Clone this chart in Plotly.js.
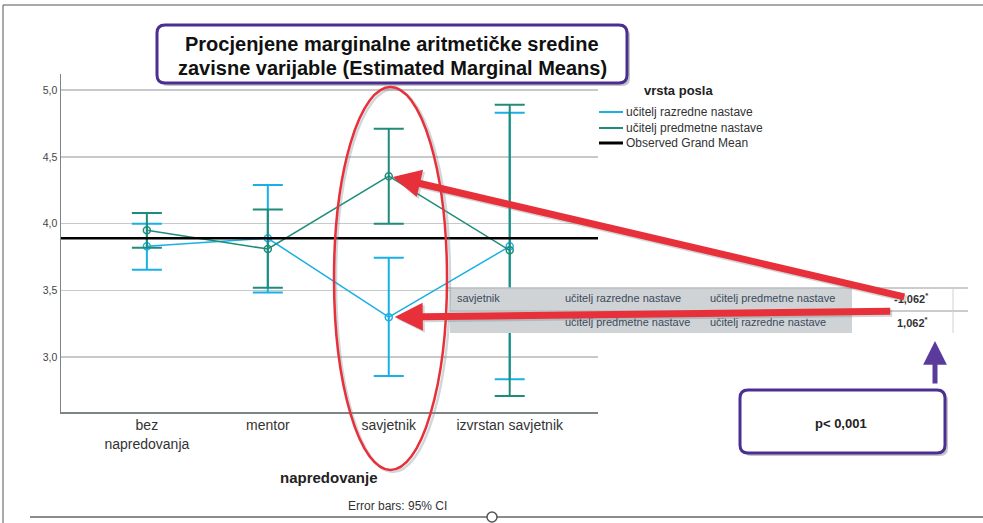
<!DOCTYPE html>
<html>
<head>
<meta charset="utf-8">
<script src="https://cdn.plot.ly/plotly-3.0.1.min.js"></script>
<style>html,body{margin:0;padding:0;background:#fff;}#chart{width:983px;height:523px;}</style>
</head>
<body>
<div id="chart"></div>
<script>
// ---- data ----
const categories = ['bez napredovanja', 'mentor', 'savjetnik', 'izvrstan savjetnik'];
const tickLabels = ['bez<br>napredovanja', 'mentor', 'savjetnik', 'izvrstan savjetnik'];
const seriesNames = ['učitelj razredne nastave', 'učitelj predmetne nastave'];
const razredneMean = [3.83, 3.89, 3.30, 3.83];
const razredneLow  = [3.655, 3.485, 2.86, 2.835];
const razredneHigh = [4.00, 4.29, 3.745, 4.83];
const predmetneMean = [3.95, 3.81, 4.355, 3.80];
const predmetneLow  = [3.82, 3.52, 4.00, 2.71];
const predmetneHigh = [4.08, 4.105, 4.71, 4.89];
const grandMean = 3.89;
const yTicks = [3.0, 3.5, 4.0, 4.5, 5.0];
const tableRows = [
  ['savjetnik', 'učitelj razredne nastave', 'učitelj predmetne nastave', '-1,062<sup>*</sup>'],
  ['', 'učitelj predmetne nastave', 'učitelj razredne nastave', '1,062<sup>*</sup>']
];

// ---- styles ----
const CYAN = '#19b0e6', TEAL = '#1f8c7a', RED = '#e8303a', PURPLE = '#4b2e91';
const L = 61, T = 74, W = 537, H = 338;
const px = x => (x - L) / W;
const py = y => 1 - (y - T) / H;
function rr(x0, y0, x1, y1, r) {
  const P = (x, y) => px(x) + ',' + py(y);
  return 'M' + P(x0 + r, y0) + ' L' + P(x1 - r, y0) + ' Q' + P(x1, y0) + ' ' + P(x1, y0 + r) +
    ' L' + P(x1, y1 - r) + ' Q' + P(x1, y1) + ' ' + P(x1 - r, y1) +
    ' L' + P(x0 + r, y1) + ' Q' + P(x0, y1) + ' ' + P(x0, y1 - r) +
    ' L' + P(x0, y0 + r) + ' Q' + P(x0, y0) + ' ' + P(x0 + r, y0) + ' Z';
}
const idx = categories.map((_, i) => i);
const diff = (a, b) => a.map((v, i) => v - b[i]);

const traces = [
  {
    x: idx, y: razredneMean, name: seriesNames[0], type: 'scatter', mode: 'lines+markers',
    line: {color: CYAN, width: 1.5},
    marker: {symbol: 'circle-open', size: 7, color: CYAN, line: {width: 1.5, color: CYAN}},
    error_y: {type: 'data', symmetric: false, array: diff(razredneHigh, razredneMean),
      arrayminus: diff(razredneMean, razredneLow), color: CYAN, thickness: 2, width: 15}
  },
  {
    x: idx, y: predmetneMean, name: seriesNames[1], type: 'scatter', mode: 'lines+markers',
    line: {color: TEAL, width: 1.5},
    marker: {symbol: 'circle-open', size: 7, color: TEAL, line: {width: 1.5, color: TEAL}},
    error_y: {type: 'data', symmetric: false, array: diff(predmetneHigh, predmetneMean),
      arrayminus: diff(predmetneMean, predmetneLow), color: TEAL, thickness: 2, width: 15}
  }
];

const shapes = [
  // frame
  {type: 'rect', xref: 'paper', yref: 'paper', x0: px(3), x1: px(1000), y0: py(5), y1: py(540), line: {color: '#555', width: 1}, layer: 'below'},
  // grand mean
  {type: 'line', xref: 'paper', yref: 'y', x0: 0, x1: 1, y0: grandMean, y1: grandMean, line: {color: '#000', width: 2.5}, layer: 'above'},
  // table
  {type: 'rect', xref: 'paper', yref: 'paper', x0: px(450), x1: px(852), y0: py(288), y1: py(333), fillcolor: '#cfd3d5', line: {width: 0}, layer: 'above'},
  {type: 'rect', xref: 'paper', yref: 'paper', x0: px(852), x1: px(953), y0: py(288), y1: py(333), fillcolor: '#ffffff', line: {width: 0}, layer: 'above'},
  {type: 'line', xref: 'paper', yref: 'paper', x0: px(447), x1: px(968), y0: py(288), y1: py(288), line: {color: '#b8bcbe', width: 1.5}, layer: 'above'},
  {type: 'line', xref: 'paper', yref: 'paper', x0: px(450), x1: px(968), y0: py(311), y1: py(311), line: {color: '#b8bcbe', width: 1.5}, layer: 'above'},
  {type: 'line', xref: 'paper', yref: 'paper', x0: px(953), x1: px(953), y0: py(288), y1: py(333), line: {color: '#d0d0d0', width: 1}, layer: 'above'},
  // red ellipse shadow + ellipse
  {type: 'circle', xref: 'paper', yref: 'paper', x0: px(336), x1: px(450), y0: py(89), y1: py(472), line: {color: 'rgba(120,140,150,0.35)', width: 2.5}, layer: 'above'},
  {type: 'circle', xref: 'paper', yref: 'paper', x0: px(334), x1: px(447), y0: py(87), y1: py(470), line: {color: RED, width: 2.5}, layer: 'above'},
  // title box
  {type: 'path', xref: 'paper', yref: 'paper', path: rr(160, 28, 630, 86, 8), fillcolor: 'rgba(90,90,90,0.35)', line: {width: 0}, layer: 'above'},
  {type: 'path', xref: 'paper', yref: 'paper', path: rr(157, 25, 627, 83, 8), fillcolor: '#ffffff', line: {color: PURPLE, width: 3}, layer: 'above'},
  // p box
  {type: 'path', xref: 'paper', yref: 'paper', path: rr(743, 393, 948, 456, 8), fillcolor: 'rgba(90,90,90,0.35)', line: {width: 0}, layer: 'above'},
  {type: 'path', xref: 'paper', yref: 'paper', path: rr(740, 390, 945, 453, 8), fillcolor: '#ffffff', line: {color: PURPLE, width: 3}, layer: 'above'},
  // legend samples
  {type: 'line', xref: 'paper', yref: 'paper', x0: px(599), x1: px(623), y0: py(112), y1: py(112), line: {color: CYAN, width: 2}, layer: 'above'},
  {type: 'line', xref: 'paper', yref: 'paper', x0: px(599), x1: px(623), y0: py(128), y1: py(128), line: {color: TEAL, width: 2}, layer: 'above'},
  {type: 'line', xref: 'paper', yref: 'paper', x0: px(599), x1: px(623), y0: py(143), y1: py(143), line: {color: '#000', width: 3}, layer: 'above'},
  // bottom slider line
  {type: 'line', xref: 'paper', yref: 'paper', x0: px(30), x1: px(983), y0: py(517), y1: py(517), line: {color: '#666', width: 1.5}, layer: 'above'},
  {type: 'circle', xref: 'paper', yref: 'paper', x0: px(487), x1: px(497), y0: py(512), y1: py(522), fillcolor: '#fff', line: {color: '#555', width: 1.5}, layer: 'above'}
];

const ann = [];
function txt(text, x, y, size, opts) {
  ann.push(Object.assign({text: text, xref: 'paper', yref: 'paper', x: px(x), y: py(y), showarrow: false,
    xanchor: 'left', yanchor: 'middle', font: {size: size, color: '#222'}}, opts || {}));
}
// title
txt('<b>Procjenjene marginalne aritmetičke sredine</b>', 392, 44, 20, {xanchor: 'center', font: {size: 20, color: '#111'}});
txt('<b>zavisne varijable (Estimated Marginal Means)</b>', 392, 68, 20, {xanchor: 'center', font: {size: 20, color: '#111'}});
// legend
txt('<b>vrsta posla</b>', 642, 90, 13, {font: {size: 13, color: '#222'}});
txt(seriesNames[0], 624, 112, 12, {font: {size: 12, color: '#333'}});
txt(seriesNames[1], 624, 128, 12, {font: {size: 12, color: '#333'}});
txt('Observed Grand Mean', 624, 143, 12, {font: {size: 12, color: '#333'}});
// axis title + note
txt('<b>napredovanje</b>', 329, 477, 15, {xanchor: 'center', font: {size: 15, color: '#222'}});
txt('Error bars: 95% CI', 397, 506, 12, {xanchor: 'center', font: {size: 12, color: '#333'}});
// table text
const colX = [455, 563, 708];
tableRows.forEach((row, r) => {
  const yc = r === 0 ? 298 : 322;
  row.slice(0, 3).forEach((c, j) => { if (c) txt(c, colX[j], yc, 11, {font: {size: 11, color: '#3b4a5c'}}); });
  txt('<b>' + row[3] + '</b>', 930, yc, 11, {xanchor: 'right', font: {size: 11, color: '#333'}});
});
// p value
txt('<b>p&lt; 0,001</b>', 841, 423, 13, {xanchor: 'center', font: {size: 13, color: '#222'}});
// purple up arrow
ann.push({text: '', xref: 'paper', yref: 'paper', x: px(935), y: py(341), ax: 0, ay: 44, showarrow: true,
  arrowhead: 2, arrowsize: 0.95, arrowwidth: 5, arrowcolor: '#5a3b9c'});
// red arrows (with soft shadow) pointing at the savjetnik means
const arrowSpecs = [
  {y: predmetneMean[2], ax: 517, ay: 121, standoff: 4},
  {y: razredneMean[2], ax: 503, ay: -6, standoff: 6}
];
arrowSpecs.forEach(a => {
  ann.push({text: '', xref: 'x', yref: 'y', x: 2, y: a.y, ax: a.ax, ay: a.ay, showarrow: true, xshift: 2, yshift: -2,
    arrowhead: 2, arrowsize: 0.8, arrowwidth: 7, arrowcolor: 'rgba(110,120,130,0.3)', standoff: a.standoff});
});
arrowSpecs.forEach(a => {
  ann.push({text: '', xref: 'x', yref: 'y', x: 2, y: a.y, ax: a.ax, ay: a.ay, showarrow: true,
    arrowhead: 2, arrowsize: 0.8, arrowwidth: 7, arrowcolor: RED, standoff: a.standoff});
});

const layout = {
  width: 983, height: 523,
  margin: {l: L, r: 983 - L - W, t: T, b: 523 - T - H},
  paper_bgcolor: '#fff', plot_bgcolor: '#fff',
  showlegend: false,
  separators: ', ',
  font: {family: 'Liberation Sans, Arial, sans-serif', color: '#333'},
  xaxis: {range: [-0.71, 3.73], tickvals: idx, ticktext: tickLabels, showgrid: false, zeroline: false,
    showline: true, linecolor: '#7d8585', linewidth: 1.5, ticks: '', tickfont: {size: 14, color: '#333'}},
  yaxis: {range: [2.59, 5.12], tickvals: yTicks, tickformat: '.1f', showgrid: true, gridcolor: '#c6caca', gridwidth: 1.5,
    zeroline: false, showline: true, linecolor: '#7d8585', linewidth: 1.5, ticks: '', tickfont: {size: 10.5, color: '#444'}},
  shapes: shapes,
  annotations: ann
};
Plotly.newPlot('chart', traces, layout, {staticPlot: true, displayModeBar: false});
</script>
</body>
</html>
